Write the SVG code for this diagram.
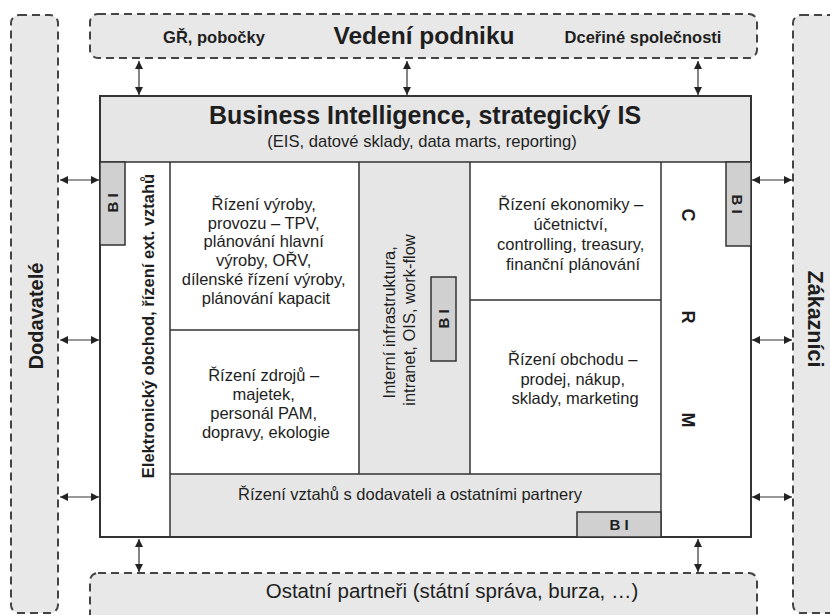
<svg xmlns="http://www.w3.org/2000/svg" width="830" height="615" viewBox="0 0 830 615">
<style>
text{font-family:"Liberation Sans",Arial,sans-serif;fill:#1e1e1e}
.b{font-weight:bold}
.t{font-size:16.5px}
.m{text-anchor:middle}
.dash{fill:#e8e8e8;stroke:#444;stroke-width:2;stroke-dasharray:8 5}
.ln{stroke:#333;stroke-width:1.5;fill:none}
.gray{fill:#e6e6e6}
.bi{fill:#d0d0d0;stroke:#333;stroke-width:1.5}
.bit{font-size:15px;font-weight:bold;text-anchor:middle}
.ar{stroke:#333;stroke-width:1.2;fill:none;marker-start:url(#ah);marker-end:url(#ah)}
</style>
<defs>
<marker id="ah" viewBox="0 0 10 10" refX="10" refY="5" markerWidth="8" markerHeight="8" markerUnits="userSpaceOnUse" orient="auto-start-reverse">
<path d="M0,0 L10,5 L0,10 z" fill="#222"/>
</marker>
</defs>

<g id="dodavatele">
<rect class="dash" x="11" y="15" width="47" height="598" rx="8"/>
<text class="b m" font-size="20" transform="translate(43,316) rotate(-90)">Dodavatelé</text>
</g>
<g id="zakaznici">
<rect class="dash" x="793" y="15" width="60" height="598" rx="8"/>
<text class="b m" font-size="21.5" transform="translate(808,319) rotate(90)">Zákazníci</text>
</g>
<g id="vedeni">
<rect class="dash" x="90" y="14" width="667" height="44" rx="8"/>
<text class="b m" font-size="16.5" x="214" y="43">GŘ, pobočky</text>
<text class="b m" font-size="24.5" x="424" y="44">Vedení podniku</text>
<text class="b m" font-size="16.5" x="643" y="43">Dceřiné společnosti</text>
</g>
<g id="ostatni">
<rect class="dash" x="90" y="573" width="667" height="60" rx="8"/>
<text class="m" font-size="20.5" x="452" y="598">Ostatní partneři (státní správa, burza, …)</text>
</g>

<g id="main">
<rect x="100" y="96" width="651" height="441" fill="#fff"/>
<rect class="gray" x="100" y="96" width="651" height="66"/>
<rect class="gray" x="359" y="162" width="111" height="312"/>
<rect class="gray" x="170" y="474" width="491" height="63"/>
<path class="ln" d="M100,162H751 M170,162V537 M359,162V474 M470,162V474 M661,162V537 M170,474H661 M170,330H359 M470,300H661"/>
<rect x="100" y="96" width="651" height="441" fill="none" stroke="#333" stroke-width="2"/>
</g>

<g id="bi-header">
<text class="b m" font-size="25" x="425" y="124">Business Intelligence, strategický IS</text>
<text class="m" font-size="16.6" x="422" y="147">(EIS, datové sklady, data marts, reporting)</text>
</g>

<g id="elektronicky">
<rect class="bi" x="100" y="162" width="25" height="83"/>
<text class="bit" transform="translate(118,203) rotate(-90)">B I</text>
<text class="b m t" transform="translate(154,326) rotate(-90)">Elektronický obchod, řízení ext. vztahů</text>
</g>

<g id="vyroba">
<text class="t m">
<tspan x="266" y="210">Řízení výroby,</tspan>
<tspan x="266" y="228.7">provozu – TPV,</tspan>
<tspan x="266" y="247.4">plánování hlavní</tspan>
<tspan x="266" y="266.1">výroby, OŘV,</tspan>
<tspan x="266" y="284.8">dílenské řízení výroby,</tspan>
<tspan x="266" y="303.5">plánování kapacit</tspan>
</text>
</g>

<g id="zdroje">
<text class="t m">
<tspan x="266" y="381">Řízení zdrojů –</tspan>
<tspan x="266" y="400">majetek,</tspan>
<tspan x="266" y="419">personál  PAM,</tspan>
<tspan x="266" y="438">dopravy, ekologie</tspan>
</text>
</g>

<g id="infrastruktura">
<text class="t m" transform="translate(400,320) rotate(-90)">
<tspan x="0" y="-5">Interní infrastruktura,</tspan>
<tspan x="0" y="15">intranet, OIS, work-flow</tspan>
</text>
<rect class="bi" x="431" y="277" width="25" height="84"/>
<text class="bit" transform="translate(449,319) rotate(-90)">B I</text>
</g>

<g id="ekonomika">
<text class="t m">
<tspan x="573" y="210">Řízení ekonomiky –</tspan>
<tspan x="573" y="230">účetnictví,</tspan>
<tspan x="573" y="250">controlling, treasury,</tspan>
<tspan x="573" y="270">finanční plánování</tspan>
</text>
</g>

<g id="obchod">
<text class="t m">
<tspan x="575" y="365">Řízení obchodu –</tspan>
<tspan x="575" y="384.5">prodej, nákup,</tspan>
<tspan x="575" y="404">sklady, marketing</tspan>
</text>
</g>

<g id="crm">
<rect class="bi" x="726" y="162" width="25" height="84"/>
<text class="bit" transform="translate(732,204) rotate(90)">B I</text>
<text class="b m" font-size="18" transform="translate(682,215) rotate(90)">C</text>
<text class="b m" font-size="18" transform="translate(682,317) rotate(90)">R</text>
<text class="b m" font-size="18" transform="translate(682,420) rotate(90)">M</text>
</g>

<g id="vztahy">
<text class="t m" x="410" y="500">Řízení vztahů s dodavateli a ostatními partnery</text>
<rect class="bi" x="577" y="512" width="84" height="25"/>
<text class="bit" x="619" y="530">B I</text>
</g>

<g id="connectors">
<line class="ar" x1="139" y1="61" x2="139" y2="95"/>
<line class="ar" x1="407" y1="61" x2="407" y2="95"/>
<line class="ar" x1="698" y1="61" x2="698" y2="95"/>
<line class="ar" x1="139" y1="539" x2="139" y2="572"/>
<line class="ar" x1="698" y1="539" x2="698" y2="572"/>
<line class="ar" x1="60" y1="180" x2="99" y2="180"/>
<line class="ar" x1="60" y1="340" x2="99" y2="340"/>
<line class="ar" x1="60" y1="497" x2="99" y2="497"/>
<line class="ar" x1="752" y1="180" x2="792" y2="180"/>
<line class="ar" x1="752" y1="340" x2="792" y2="340"/>
<line class="ar" x1="752" y1="497" x2="792" y2="497"/>
</g>
</svg>
